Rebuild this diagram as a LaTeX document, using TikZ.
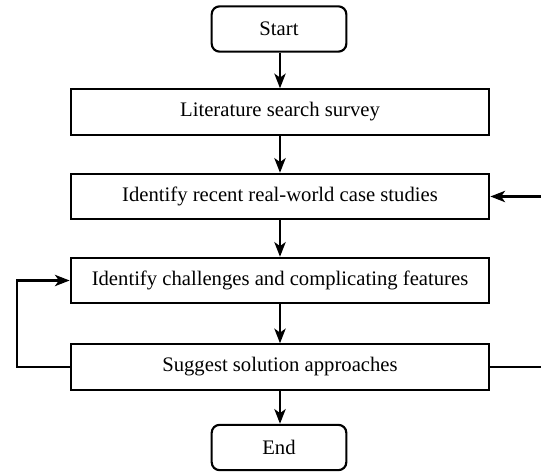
\documentclass[tikz,border=0pt]{standalone}
\usepackage{fontspec}
\setmainfont{Liberation Serif}
\usetikzlibrary{arrows.meta}
\begin{document}
\begin{tikzpicture}[x=0.75pt,y=-0.75pt,
  every node/.style={font=\fontsize{15.5}{18}\selectfont},
  procbox/.style={draw,line width=1.6pt,rectangle,minimum width=314pt,minimum height=34pt,inner sep=0pt},
  termbox/.style={draw,line width=1.6pt,rectangle,rounded corners=6pt,minimum width=101pt,minimum height=34pt,inner sep=0pt},
  conn/.style={line width=1.6pt,-{Stealth[length=11pt,width=8.5pt,inset=3pt]}},
  plainconn/.style={line width=1.6pt}]
\useasboundingbox (0,0) rectangle (541,473);
\node[termbox] (start) at (279,29) {Start};
\node[procbox] (lit) at (280,112) {Literature search survey};
\node[procbox] (case) at (280,196.5) {Identify recent real-world case studies};
\node[procbox] (chal) at (280,280.5) {Identify challenges and complicating features};
\node[procbox] (sugg) at (280,367) {Suggest solution approaches};
\node[termbox] (end) at (279,447.5) {End};
\coordinate (rgt) at (546,0);
\coordinate (lft) at (17,0);
\draw[conn] (start.south -| lit.north) -- (lit.north);
\draw[conn] (lit) -- (case);
\draw[conn] (case) -- (chal);
\draw[conn] (chal) -- (sugg);
\draw[conn] (sugg.south) -- (sugg.south |- end.north);
\draw[conn] (sugg.west) -- (sugg.west -| lft) |- (chal.west);
\draw[conn] (sugg.east) -- (sugg.east -| rgt) |- (case.east);
\end{tikzpicture}
\end{document}
